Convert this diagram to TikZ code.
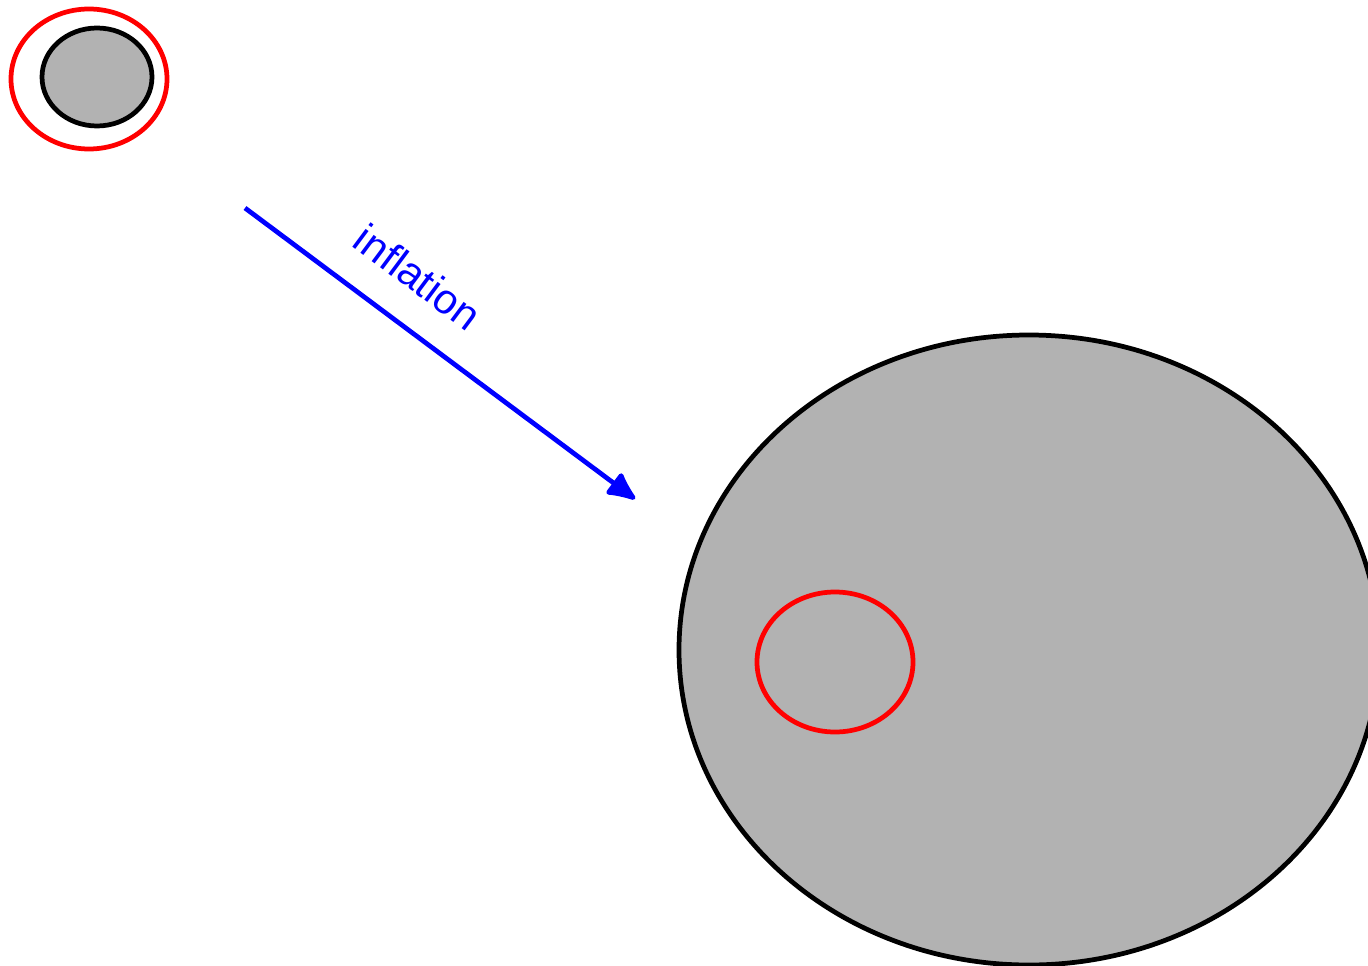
\documentclass[tikz,border=0pt]{standalone}
\usepackage{fontspec}
\setsansfont{Liberation Sans}
\usepackage{tikz}
\usetikzlibrary{arrows.meta,positioning,shapes.geometric}

\begin{document}
\begin{tikzpicture}[x=0.02cm, y=-0.02cm, line width=2.7pt,
    patch/.style={ellipse, draw=black, fill=black!30, inner sep=0pt},
    horizon/.style={ellipse, draw=red, inner sep=0pt}]
    \useasboundingbox (0,0) rectangle (1368,966);

    % before inflation
    \node[horizon, minimum width=156*0.02cm, minimum height=140*0.02cm] (hor1) at (89,79) {};
    \node[patch, minimum width=110*0.02cm, minimum height=98*0.02cm] (patch1) at (97,77) {};

    % after inflation
    \node[patch, minimum width=700*0.02cm, minimum height=630*0.02cm] (patch2) at (1029,650) {};
    \node[horizon, minimum width=156*0.02cm, minimum height=140*0.02cm] (hor2) at (835,662) {};

    % arrow
    \coordinate (from) at (245,208);
    \coordinate (to) at (635,499);
    \draw[blue, -{Latex[length=19pt, width=17pt, round]}] (from) -- (to)
        node[pos=0.37, sloped, above=14pt, font=\sffamily\fontsize{24}{28}\selectfont] (lbl) {inflation};
\end{tikzpicture}
\end{document}
